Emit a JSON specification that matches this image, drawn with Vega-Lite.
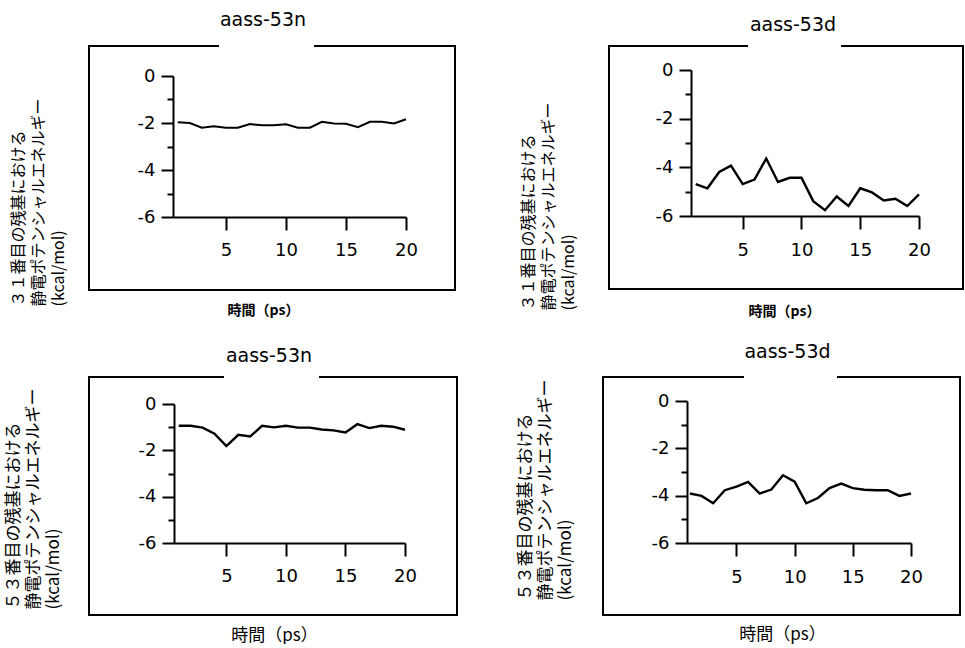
{
  "$schema": "https://vega.github.io/schema/vega-lite/v6.json",
  "background": "white",
  "padding": {"left": 3, "top": 10, "right": 0, "bottom": 0},
  "autosize": {"type": "pad"},
  "datasets": {
    "r31_53n": [
      {"time": 1, "energy": -1.97}, {"time": 2, "energy": -2.0}, {"time": 3, "energy": -2.2}, {"time": 4, "energy": -2.14},
      {"time": 5, "energy": -2.2}, {"time": 6, "energy": -2.2}, {"time": 7, "energy": -2.04}, {"time": 8, "energy": -2.1},
      {"time": 9, "energy": -2.1}, {"time": 10, "energy": -2.05}, {"time": 11, "energy": -2.2}, {"time": 12, "energy": -2.2},
      {"time": 13, "energy": -1.95}, {"time": 14, "energy": -2.02}, {"time": 15, "energy": -2.03}, {"time": 16, "energy": -2.18},
      {"time": 17, "energy": -1.95}, {"time": 18, "energy": -1.95}, {"time": 19, "energy": -2.02}, {"time": 20, "energy": -1.84}
    ],
    "r31_53d": [
      {"time": 1, "energy": -4.69}, {"time": 2, "energy": -4.86}, {"time": 3, "energy": -4.19}, {"time": 4, "energy": -3.93},
      {"time": 5, "energy": -4.69}, {"time": 6, "energy": -4.5}, {"time": 7, "energy": -3.64}, {"time": 8, "energy": -4.6},
      {"time": 9, "energy": -4.43}, {"time": 10, "energy": -4.43}, {"time": 11, "energy": -5.39}, {"time": 12, "energy": -5.76},
      {"time": 13, "energy": -5.2}, {"time": 14, "energy": -5.59}, {"time": 15, "energy": -4.86}, {"time": 16, "energy": -5.03},
      {"time": 17, "energy": -5.36}, {"time": 18, "energy": -5.29}, {"time": 19, "energy": -5.59}, {"time": 20, "energy": -5.11}
    ],
    "r53_53n": [
      {"time": 1, "energy": -0.94}, {"time": 2, "energy": -0.94}, {"time": 3, "energy": -1.02}, {"time": 4, "energy": -1.28},
      {"time": 5, "energy": -1.82}, {"time": 6, "energy": -1.33}, {"time": 7, "energy": -1.4}, {"time": 8, "energy": -0.94},
      {"time": 9, "energy": -1.01}, {"time": 10, "energy": -0.94}, {"time": 11, "energy": -1.02}, {"time": 12, "energy": -1.02},
      {"time": 13, "energy": -1.1}, {"time": 14, "energy": -1.14}, {"time": 15, "energy": -1.23}, {"time": 16, "energy": -0.87},
      {"time": 17, "energy": -1.04}, {"time": 18, "energy": -0.94}, {"time": 19, "energy": -0.98}, {"time": 20, "energy": -1.11}
    ],
    "r53_53d": [
      {"time": 1, "energy": -3.91}, {"time": 2, "energy": -4.01}, {"time": 3, "energy": -4.32}, {"time": 4, "energy": -3.77},
      {"time": 5, "energy": -3.62}, {"time": 6, "energy": -3.42}, {"time": 7, "energy": -3.91}, {"time": 8, "energy": -3.74},
      {"time": 9, "energy": -3.14}, {"time": 10, "energy": -3.41}, {"time": 11, "energy": -4.32}, {"time": 12, "energy": -4.1},
      {"time": 13, "energy": -3.68}, {"time": 14, "energy": -3.49}, {"time": 15, "energy": -3.68}, {"time": 16, "energy": -3.75},
      {"time": 17, "energy": -3.77}, {"time": 18, "energy": -3.77}, {"time": 19, "energy": -4.01}, {"time": 20, "energy": -3.91}
    ]
  },
  "config": {
    "font": "DejaVu Sans",
    "axis": {
      "grid": false, "domainColor": "black", "domainWidth": 2, "tickColor": "black", "tickWidth": 2,
      "labelColor": "black", "labelFont": "DejaVu Sans", "labelFontSize": 18, "labelOverlap": false, "labelFlush": false,
      "titleColor": "black"
    },
    "title": {"font": "DejaVu Sans", "fontSize": 19, "fontWeight": "normal", "color": "black", "baseline": "alphabetic", "anchor": "middle", "frame": "group"},
    "line": {"color": "black", "strokeWidth": 2.4}
  },
  "vconcat": [
    {
      "spacing": 63,
      "hconcat": [
        {
          "width": 366, "height": 244,
          "view": {"stroke": "black", "strokeWidth": 2, "strokeDash": [130, 95, 3000]},
          "title": {"text": "aass-53n", "offset": 16, "dx": -9},
          "data": {"name": "r31_53n"},
          "mark": {"type": "line", "strokeWidth": 2},
          "encoding": {
            "x": {"field": "time", "type": "quantitative",
              "scale": {"domain": [0.6, 20], "range": [84, 317], "nice": false, "zero": false},
              "axis": {"values": [5, 10, 15, 20], "offset": -73, "tickSize": 13, "labelPadding": 11,
                "title": "時間（ps）", "titleFont": "Noto Sans CJK JP", "titleFontSize": 14, "titleFontWeight": "bold",
                "titleX": 174, "titleY": 93, "titleBaseline": "middle", "titleAlign": "center"}},
            "y": {"field": "energy", "type": "quantitative",
              "scale": {"domain": [-6, 0], "range": [171, 30], "nice": false, "zero": false},
              "axis": {"values": [0, -1, -2, -3, -4, -5, -6], "offset": -84,
                "tickSize": {"condition": {"test": "datum.value % 2 === 0", "value": 12}, "value": 6},
                "labelPadding": 6, "labelExpr": "datum.value % 2 === 0 ? '' + datum.value : ''",
                "title": ["３１番目の残基における", "静電ポテンシャルエネルギー", "(kcal/mol)"],
                "titleFont": "Noto Sans CJK JP", "titleFontSize": 16, "titleFontWeight": "normal",
                "titleAngle": -90, "titleAlign": "left", "titleBaseline": "middle", "titleLineHeight": 20,
                "titleX": -155, "titleY": 260}}
          }
        },
        {
          "width": 354, "height": 243,
          "view": {"stroke": "black", "strokeWidth": 2, "strokeDash": [139, 93, 3000]},
          "title": {"text": "aass-53d", "offset": 11, "dx": 7},
          "data": {"name": "r31_53d"},
          "mark": {"type": "line"},
          "encoding": {
            "x": {"field": "time", "type": "quantitative",
              "scale": {"domain": [0.6, 20], "range": [82, 310], "nice": false, "zero": false},
              "axis": {"values": [5, 10, 15, 20], "offset": -73, "tickSize": 13, "labelPadding": 12,
                "title": "時間（ps）", "titleFont": "Noto Sans CJK JP", "titleFontSize": 14, "titleFontWeight": "bold",
                "titleX": 175, "titleY": 95, "titleBaseline": "middle", "titleAlign": "center"}},
            "y": {"field": "energy", "type": "quantitative",
              "scale": {"domain": [-6, 0], "range": [170, 24], "nice": false, "zero": false},
              "axis": {"values": [0, -1, -2, -3, -4, -5, -6], "offset": -82,
                "tickSize": {"condition": {"test": "datum.value % 2 === 0", "value": 12}, "value": 6},
                "labelPadding": 6, "labelExpr": "datum.value % 2 === 0 ? '' + datum.value : ''",
                "title": ["３１番目の残基における", "静電ポテンシャルエネルギー", "(kcal/mol)"],
                "titleFont": "Noto Sans CJK JP", "titleFontSize": 16, "titleFontWeight": "normal",
                "titleAngle": -90, "titleAlign": "left", "titleBaseline": "middle", "titleLineHeight": 20,
                "titleX": -163, "titleY": 264}}
          }
        }
      ]
    },
    {
      "spacing": 57,
      "hconcat": [
        {
          "width": 368, "height": 238,
          "view": {"stroke": "black", "strokeWidth": 2, "strokeDash": [135, 95, 3000]},
          "title": {"text": "aass-53n", "offset": 11, "dx": -4},
          "data": {"name": "r53_53n"},
          "mark": {"type": "line"},
          "encoding": {
            "x": {"field": "time", "type": "quantitative",
              "scale": {"domain": [0.6, 20], "range": [85, 316], "nice": false, "zero": false},
              "axis": {"values": [5, 10, 15, 20], "offset": -72, "tickSize": 13, "labelPadding": 11,
                "title": "時間（ps）", "titleFont": "Noto Sans CJK JP", "titleFontSize": 17, "titleFontWeight": "normal",
                "titleX": 185, "titleY": 92, "titleBaseline": "middle", "titleAlign": "center"}},
            "y": {"field": "energy", "type": "quantitative",
              "scale": {"domain": [-6, 0], "range": [166, 27], "nice": false, "zero": false},
              "axis": {"values": [0, -1, -2, -3, -4, -5, -6], "offset": -85,
                "tickSize": {"condition": {"test": "datum.value % 2 === 0", "value": 12}, "value": 6},
                "labelPadding": 6, "labelExpr": "datum.value % 2 === 0 ? '' + datum.value : ''",
                "title": ["５３番目の残基における", "静電ポテンシャルエネルギー", "(kcal/mol)"],
                "titleFont": "Noto Sans CJK JP", "titleFontSize": 17, "titleFontWeight": "normal",
                "titleAngle": -90, "titleAlign": "left", "titleBaseline": "middle", "titleLineHeight": 20,
                "titleX": -161, "titleY": 232}}
          }
        },
        {
          "width": 357, "height": 238,
          "view": {"stroke": "black", "strokeWidth": 2, "strokeDash": [141, 93, 3000]},
          "title": {"text": "aass-53d", "offset": 15, "dx": 6},
          "data": {"name": "r53_53d"},
          "mark": {"type": "line"},
          "encoding": {
            "x": {"field": "time", "type": "quantitative",
              "scale": {"domain": [0.75, 20], "range": [84, 308], "nice": false, "zero": false},
              "axis": {"values": [5, 10, 15, 20], "offset": -72, "tickSize": 13, "labelPadding": 12,
                "title": "時間（ps）", "titleFont": "Noto Sans CJK JP", "titleFontSize": 17, "titleFontWeight": "normal",
                "titleX": 179, "titleY": 91, "titleBaseline": "middle", "titleAlign": "center"}},
            "y": {"field": "energy", "type": "quantitative",
              "scale": {"domain": [-6, 0], "range": [166, 24], "nice": false, "zero": false},
              "axis": {"values": [0, -1, -2, -3, -4, -5, -6], "offset": -84,
                "tickSize": {"condition": {"test": "datum.value % 2 === 0", "value": 12}, "value": 6},
                "labelPadding": 6, "labelExpr": "datum.value % 2 === 0 ? '' + datum.value : ''",
                "title": ["５３番目の残基における", "静電ポテンシャルエネルギー", "(kcal/mol)"],
                "titleFont": "Noto Sans CJK JP", "titleFontSize": 17, "titleFontWeight": "normal",
                "titleAngle": -90, "titleAlign": "left", "titleBaseline": "middle", "titleLineHeight": 20,
                "titleX": -162, "titleY": 223}}
          }
        }
      ]
    }
  ],
  "spacing": 23
}
